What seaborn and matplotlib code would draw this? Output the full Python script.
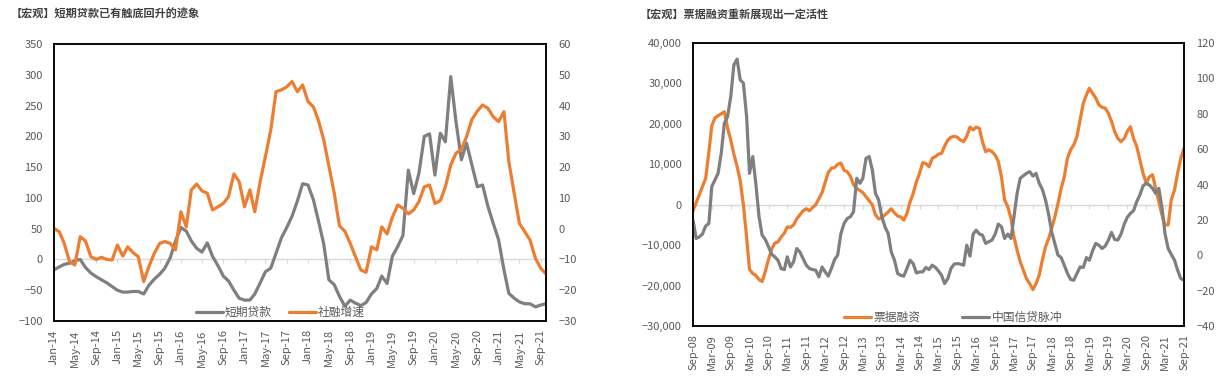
import pandas as pd
import seaborn as sns
import matplotlib.pyplot as plt
import matplotlib.dates as mdates
from matplotlib.ticker import StrMethodFormatter

# left chart: monthly, Jan-14 .. Oct-21
left_dates = pd.date_range('2014-01-01', periods=94, freq='MS')
short_loans = [-17, -12, -8, -6, -2, 0, -13, -22, -28, -33, -38, -44, -50, -53, -53, -52,
               -52, -56, -42, -32, -24, -14, 3, 30, 52, 46, 30, 18, 12, 27, 5, -10,
               -27, -35, -50, -63, -66, -66, -56, -38, -20, -14, 10, 35, 52, 70, 95, 123,
               121, 97, 64, 26, -33, -41, -60, -76, -66, -71, -75, -70, -56, -47, -27, -39,
               5, 21, 39, 145, 107, 140, 200, 204, 137, 205, 191, 297, 224, 162, 189, 153,
               118, 121, 86, 59, 32, -17, -55, -63, -69, -72, -72, -77, -74, -72]
tsf_growth = [0.1, -1.0, -4.8, -10.7, -11.8, -2.6, -4.0, -9.1, -10.0, -9.3, -10.0, -10.2,
              -5.3, -8.9, -5.9, -7.8, -9.1, -17.2, -12.3, -8.0, -4.8, -4.2, -4.8, -6.9,
              5.5, 0.6, 12.6, 14.5, 12.3, 11.5, 6.1, 7.1, 8.2, 10.4, 17.8, 15.3,
              7.1, 12.6, 5.5, 15.3, 23.4, 32.1, 44.5, 45.1, 46.1, 47.8, 44.5, 46.7,
              41.3, 39.6, 35.3, 29.0, 20.4, 11.5, 0.9, -0.8, -4.8, -9.1, -13.4, -14.2,
              -5.9, -6.9, 0.6, -1.7, 3.7, 7.7, 6.6, 4.8, 6.1, 8.8, 13.6, 14.2,
              8.2, 9.1, 13.6, 20.7, 24.5, 25.8, 29.9, 35.5, 38.2, 40.2, 39.1, 36.4,
              34.8, 38.0, 21.8, 11.5, 1.7, -1.0, -3.7, -9.6, -12.9, -14.7]

# right chart: monthly, Sep-08 .. Sep-21
right_dates = pd.date_range('2008-09-01', periods=157, freq='MS')
bill_financing = [-1500, 500, 2500, 4500, 6500, 13000, 19500, 21500, 22000, 22500, 23000, 19000,
                  16000, 12500, 9500, 6000, 0, -8000, -16000, -17000, -17500, -18500, -19000, -16500,
                  -13500, -11000, -9500, -9200, -8000, -7000, -5500, -5600, -5000, -3500, -2500, -1500,
                  -1000, -1500, -700, 0, 1500, 3000, 5500, 8000, 9000, 9200, 10000, 10300,
                  8500, 8200, 7000, 5000, 4000, 3500, 3000, 2000, 1000, 0, -2500, -3500,
                  -3200, -2500, -1800, -1000, -2000, -2800, -3000, -3800, -2200, 700, 2800, 5700,
                  7800, 10400, 10200, 9400, 11500, 11900, 12500, 12700, 14500, 16000, 16700, 16900,
                  16700, 16000, 15600, 16900, 19200, 18500, 19200, 18900, 15600, 13100, 13600, 13100,
                  12300, 10700, 6900, 1200, -500, -3400, -7900, -11200, -14100, -16200, -18300, -19500,
                  -21000, -19500, -17400, -13700, -10400, -8300, -5900, -3000, 300, 4000, 6900, 11500,
                  13600, 14800, 16900, 21000, 25100, 27200, 28800, 27600, 26400, 24700, 24100, 23900,
                  22600, 20600, 18100, 16400, 15600, 16400, 18100, 19300, 16400, 14400, 11100, 7800,
                  5300, 6900, 7400, 4000, 700, -2600, -5000, -5000, 1200, 3600, 7800, 11500, 14000]
credit_impulse = [19.9, 9.5, 10.4, 12, 16.5, 18, 38.8, 42.6, 46.3, 57.7, 74.7, 78.4,
                  89.8, 107.7, 110.9, 99.2, 97.3, 78.4, 46.3, 55.8, 40.7, 21.8, 11.4, 8.9,
                  4.8, 0.6, -0.9, -2.8, -7.5, -8.1, -0.9, -6.6, -3.7, 3.8, 1.9, -1.8,
                  -5.6, -7.5, -8.1, -8.4, -12.2, -6.6, -9.4, -11.8, -7.5, -2.4, 0.1, 12.3,
                  18, 20.8, 21.8, 24.6, 43.5, 40.7, 43.5, 54.8, 55.8, 48.2, 35, 31.2,
                  21.8, 16.1, 12.3, 1.9, -2.8, -10.3, -11.3, -11.8, -7.5, -2.8, -4.7, -10,
                  -9.4, -9.4, -6.9, -8.1, -5.6, -6.9, -8.8, -11.3, -16, -13.2, -7.5, -5,
                  -4.7, -5, -5.6, 5.7, -0.5, 12, 14.2, 12, 11.4, 6.7, 7.6, 8.6,
                  12, 17.6, 16.1, 9.5, 12, 9.5, 21.8, 35, 43.5, 45, 46.3, 47.3,
                  44.8, 46.3, 40.7, 37.3, 31.2, 22.7, 13.3, 6.7, 0.1, -1.3, -5.6, -10.3,
                  -13.7, -14.1, -10.3, -6.6, -6.9, -1.3, -2.8, 2.5, 6.7, 5.7, 3.8, 5.2,
                  8.6, 12.9, 8.9, 8.6, 12, 17.6, 21.4, 23.7, 25.2, 30.3, 34.1, 39.2,
                  40.7, 39.7, 37.8, 35, 37.8, 26.5, 12.3, 3.8, 0.6, -2.8, -8.4, -13.2, -14.1]

ORANGE = '#ED7D31'
GRAY = '#7F7F7F'
TXT = '#595959'

sns.set_style('white')
plt.rcParams['font.family'] = ['Noto Sans CJK SC', 'DejaVu Sans']

fig = plt.figure(figsize=(12.21, 3.79), dpi=100)
axL = fig.add_axes([0.0442, 0.153, 0.4030, 0.7309])
axR = fig.add_axes([0.5676, 0.1398, 0.4021, 0.7467])


def style_pair(ax, ax2, dates, months):
    for a in (ax, ax2):
        for s in a.spines.values():
            s.set_color('black')
            s.set_linewidth(1.1)
        a.tick_params(axis='y', length=0, labelsize=8, labelcolor=TXT)
    ax.tick_params(axis='y', pad=8)
    ax2.tick_params(axis='y', pad=9)
    ax.set_xlim(dates[0], dates[-1])
    ax.xaxis.set_major_locator(mdates.MonthLocator(bymonth=months))
    ax.xaxis.set_major_formatter(mdates.DateFormatter('%b-%y'))
    ax.tick_params(axis='x', length=0, labelsize=8, labelcolor=TXT, rotation=90, pad=6)
    ax.set_xlabel('')
    ax.set_ylabel('')
    ax2.set_ylabel('')
    ax.grid(False)
    ax2.grid(False)
    # zero line with small tick marks, like the Excel category axis
    ax.axhline(0, color='#D9D9D9', lw=1, zorder=0)
    sec = ax.secondary_xaxis(0, transform=ax.transData)
    sec.set_xticks(ax.get_xticks())
    sec.tick_params(axis='x', direction='out', length=3, color='#D9D9D9', labelbottom=False)
    sec.spines['bottom'].set_visible(False)


# ---- left chart
sns.lineplot(x=left_dates, y=short_loans, ax=axL, color=GRAY, lw=2.3, label='短期贷款', legend=False)
axL2 = axL.twinx()
sns.lineplot(x=left_dates, y=tsf_growth, ax=axL2, color=ORANGE, lw=2.3, label='社融增速', legend=False)
axL.set_ylim(-100, 350)
axL.set_yticks(range(-100, 351, 50))
axL2.set_ylim(-30, 60)
axL2.set_yticks(range(-30, 61, 10))
style_pair(axL, axL2, left_dates, (1, 5, 9))
h1, l1 = axL.get_legend_handles_labels()
h2, l2 = axL2.get_legend_handles_labels()
axL2.legend(h1 + h2, l1 + l2, loc='lower center', bbox_to_anchor=(0.46, -0.03), ncol=2,
            frameon=False, fontsize=8.5, labelcolor=TXT, handlelength=2.3, handletextpad=0.2,
            columnspacing=1.4)
fig.text(0.009, 0.963, '【宏观】短期贷款已有触底回升的迹象', fontsize=8, color='#404040',
         weight='bold', va='center')

# ---- right chart
sns.lineplot(x=right_dates, y=bill_financing, ax=axR, color=ORANGE, lw=2.3, label='票据融资', legend=False)
axR2 = axR.twinx()
sns.lineplot(x=right_dates, y=credit_impulse, ax=axR2, color=GRAY, lw=2.3, label='中国信贷脉冲', legend=False)
axR.set_ylim(-30000, 40000)
axR.set_yticks(range(-30000, 40001, 10000))
axR.yaxis.set_major_formatter(StrMethodFormatter('{x:,.0f}'))
axR2.set_ylim(-40, 120)
axR2.set_yticks(range(-40, 121, 20))
style_pair(axR, axR2, right_dates, (3, 9))
h1, l1 = axR.get_legend_handles_labels()
h2, l2 = axR2.get_legend_handles_labels()
axR2.legend(h1 + h2, l1 + l2, loc='lower center', bbox_to_anchor=(0.53, -0.03), ncol=2,
            frameon=False, fontsize=8.5, labelcolor=TXT, handlelength=2.3, handletextpad=0.2,
            columnspacing=3.5)
fig.text(0.524, 0.963, '【宏观】票据融资重新展现出一定活性', fontsize=8, color='#404040',
         weight='bold', va='center')

fig.savefig('out.png', dpi=100)
